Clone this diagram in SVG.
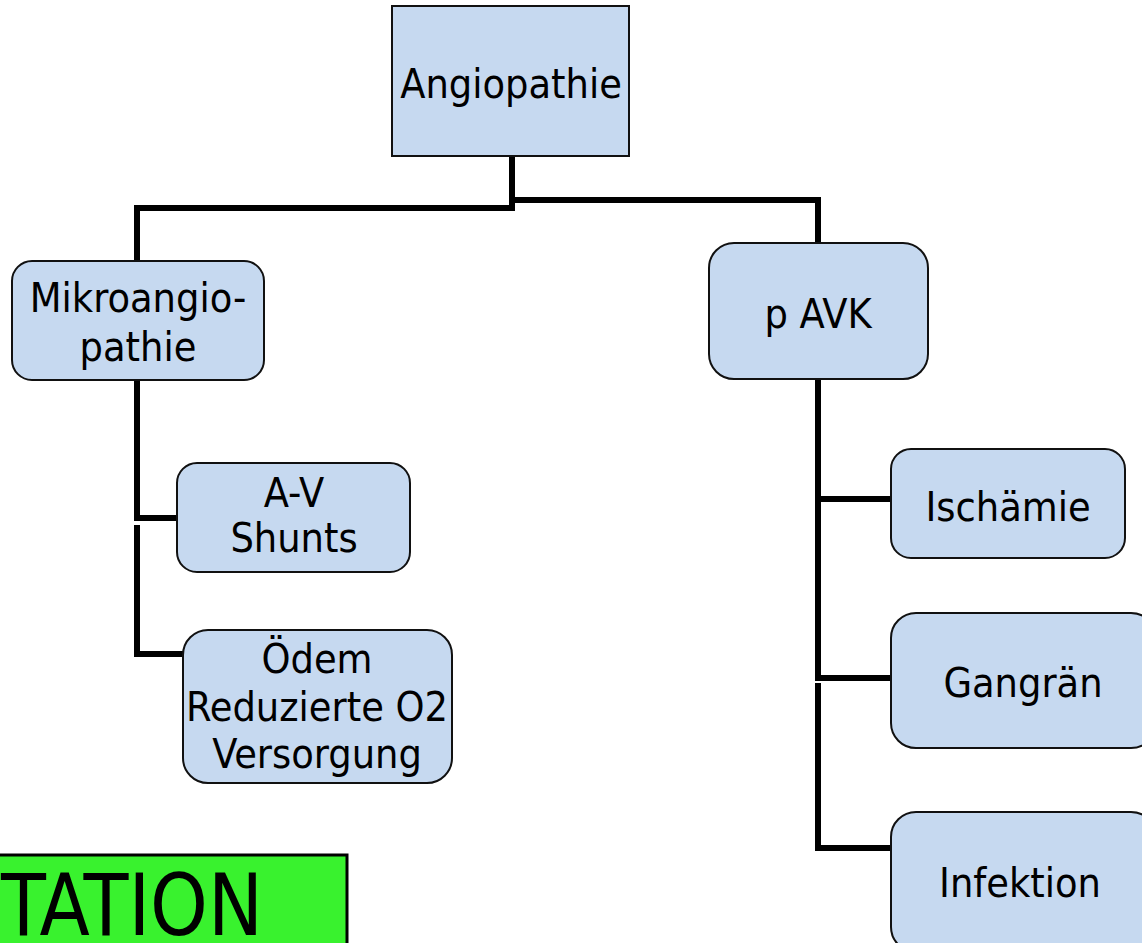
<svg xmlns="http://www.w3.org/2000/svg" width="1142" height="943" viewBox="0 0 1142 943">
<style>
.box{fill:#c6d9f0;stroke:#111;stroke-width:2}
.lbl{font-family:"DejaVu Sans Condensed","DejaVu Sans",sans-serif;font-stretch:condensed;font-size:41px;fill:#000;text-anchor:middle}
.con{fill:none;stroke:#000;stroke-width:6;stroke-linejoin:miter;stroke-linecap:butt}
</style>
<rect width="1142" height="943" fill="#fff"/>
<g id="connectors">
<path class="con" d="M512,156 V208 H137 V262"/>
<path class="con" d="M512,200 H818 V243"/>
<path class="con" d="M137,380 V518 H178"/>
<path class="con" d="M137,525 V654 H184"/>
<path class="con" d="M818,379 V678 H892"/>
<path class="con" d="M818,499 H892"/>
<path class="con" d="M818,683 V848 H892"/>
</g>
<g id="angiopathie">
<rect class="box" x="392" y="6" width="237" height="150"/>
<text class="lbl" x="511" y="98">Angiopathie</text>
</g>
<g id="mikroangiopathie">
<rect class="box" x="12" y="261" width="252" height="119" rx="20"/>
<text class="lbl" x="138" y="312">Mikroangio-</text>
<text class="lbl" x="138" y="361">pathie</text>
</g>
<g id="av-shunts">
<rect class="box" x="177" y="463" width="233" height="109" rx="20"/>
<text class="lbl" x="294" y="507">A-V</text>
<text class="lbl" x="294" y="552">Shunts</text>
</g>
<g id="oedem">
<rect class="box" x="183" y="630" width="269" height="153" rx="25"/>
<text class="lbl" x="317" y="673">Ödem</text>
<text class="lbl" x="317" y="721">Reduzierte O2</text>
<text class="lbl" x="317" y="768">Versorgung</text>
</g>
<g id="pavk">
<rect class="box" x="709" y="243" width="219" height="136" rx="25"/>
<text class="lbl" x="818" y="328">p AVK</text>
</g>
<g id="ischaemie">
<rect class="box" x="891" y="449" width="234" height="109" rx="20"/>
<text class="lbl" x="1008" y="521">Ischämie</text>
</g>
<g id="gangraen">
<rect class="box" x="891" y="613" width="265" height="135" rx="25"/>
<text class="lbl" x="1023" y="697">Gangrän</text>
</g>
<g id="infektion">
<rect class="box" x="891" y="812" width="265" height="140" rx="25"/>
<text class="lbl" x="1020" y="897">Infektion</text>
</g>
<g id="amputation">
<rect x="-10" y="855" width="357" height="100" fill="#39f22e" stroke="#000" stroke-width="3"/>
<text x="1" y="935" font-family="'DejaVu Sans Condensed','DejaVu Sans',sans-serif" font-stretch="condensed" font-size="86" fill="#000" textLength="262" lengthAdjust="spacingAndGlyphs">TATION</text>
</g>
</svg>
